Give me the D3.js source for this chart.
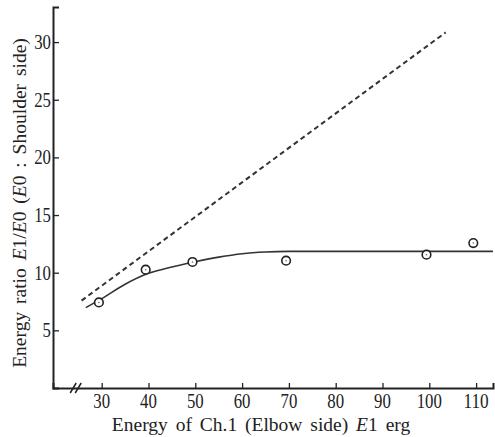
<!DOCTYPE html>
<html>
<head>
<meta charset="utf-8">
<script src="https://cdn.jsdelivr.net/npm/d3@7"></script>
<style>
  body { margin: 0; background: #fff; }
  text { font-family: "Liberation Serif", "DejaVu Serif", serif; fill: #222; }
</style>
</head>
<body>
<svg id="chart" width="495" height="437"></svg>
<script>
// measured points (E1 energy, ratio)
const pointX = [29.4, 39.4, 49.4, 69.4, 99.4, 109.4];
const pointY = [7.42, 10.26, 10.93, 11.04, 11.56, 12.57];

// fitted solid curve
const curveX = [26.6, 30, 35, 40, 45, 50, 55, 60, 65, 70, 80, 90, 100, 113.6];
const curveY = [6.97, 7.75, 9.0, 9.95, 10.5, 10.95, 11.35, 11.65, 11.8, 11.85, 11.85, 11.85, 11.85, 11.85];

// dashed reference line
const dashX = [25.7, 103.5];
const dashY = [7.58, 30.84];

const xTicks = [30, 40, 50, 60, 70, 80, 90, 100, 110];
const yTicks = [5, 10, 15, 20, 25, 30];

const margin = { top: 7, right: 2, bottom: 49, left: 53 };
const width = 495 - margin.left - margin.right;
const height = 437 - margin.top - margin.bottom;

const svg = d3.select('#chart');
const chart = svg.append('g')
    .attr('transform', `translate(${margin.left},${margin.top})`);

// x=30 sits 48.7px right of the y axis, 4.68px per unit
const xScale = d3.scaleLinear()
    .domain([30 - 48.7 / 4.68, 30 - 48.7 / 4.68 + width / 4.68])
    .range([0, width]);

const yScale = d3.scaleLinear()
    .domain([0, height / 11.53])
    .range([height, 0]);

// axes, ticks pointing inward
const xAxis = d3.axisTop(xScale).tickValues(xTicks).tickSize(5).tickFormat('');
const yAxis = d3.axisRight(yScale).tickValues(yTicks).tickSize(6).tickFormat('');

const xg = chart.append('g')
    .attr('transform', `translate(0,${height})`)
    .call(xAxis);
const yg = chart.append('g').call(yAxis);

[xg, yg].forEach(g => {
    g.select('.domain').attr('stroke', '#222').attr('stroke-width', 2);
    g.selectAll('.tick line').attr('stroke', '#222').attr('stroke-width', 1.3);
});

// tick labels (condensed, tall digits like the print)
chart.selectAll('.xlab')
    .data(xTicks)
    .enter()
    .append('text')
    .attr('class', 'xlab')
    .attr('x', d => xScale(d) - String(d).length * 4.2)
    .attr('y', height + 20)
    .attr('font-size', 20)
    .attr('textLength', d => String(d).length * 8.4)
    .attr('lengthAdjust', 'spacingAndGlyphs')
    .text(d => d);

chart.selectAll('.ylab')
    .data(yTicks)
    .enter()
    .append('text')
    .attr('class', 'ylab')
    .attr('x', d => -2 - String(d).length * 8.4)
    .attr('y', d => yScale(d) + 7)
    .attr('font-size', 20)
    .attr('textLength', d => String(d).length * 8.4)
    .attr('lengthAdjust', 'spacingAndGlyphs')
    .text(d => d);

// axis break mark
const bx = xScale(30) - 26;
[-2.5, 2.5].forEach(off => {
    chart.append('line')
        .attr('x1', bx + off - 3).attr('y1', height + 5)
        .attr('x2', bx + off + 3).attr('y2', height - 5)
        .attr('stroke', '#222').attr('stroke-width', 1.5);
});

// dashed line
const line = d3.line().x(d => xScale(d[0])).y(d => yScale(d[1]));
chart.append('path')
    .datum(d3.zip(dashX, dashY))
    .attr('d', line)
    .attr('fill', 'none')
    .attr('stroke', '#333')
    .attr('stroke-width', 2)
    .attr('stroke-dasharray', '5,3.5');

// solid curve
chart.append('path')
    .datum(d3.zip(curveX, curveY))
    .attr('d', line.curve(d3.curveMonotoneX))
    .attr('fill', 'none')
    .attr('stroke', '#333')
    .attr('stroke-width', 1.6);

// points: open circles with a small dot
const pts = chart.selectAll('.pt')
    .data(d3.zip(pointX, pointY))
    .enter()
    .append('g')
    .attr('transform', d => `translate(${xScale(d[0])},${yScale(d[1])})`);
pts.append('circle').attr('r', 4.3).attr('fill', '#fff').attr('stroke', '#222').attr('stroke-width', 1.6);
pts.append('circle').attr('r', 0.8).attr('fill', '#666');

// axis titles
svg.append('text')
    .attr('x', 261)
    .attr('y', 431)
    .attr('text-anchor', 'middle')
    .attr('font-size', 19.5)
    .attr('word-spacing', 3)
    .html('Energy of Ch.1 (Elbow side) <tspan font-style="italic">E</tspan>1 erg');

svg.append('text')
    .attr('transform', 'translate(26,203) rotate(-90)')
    .attr('text-anchor', 'middle')
    .attr('font-size', 19.5)
    .attr('word-spacing', 3)
    .html('Energy ratio <tspan font-style="italic">E</tspan>1/<tspan font-style="italic">E</tspan>0 (<tspan font-style="italic">E</tspan>0 : Shoulder side)');
</script>
</body>
</html>
